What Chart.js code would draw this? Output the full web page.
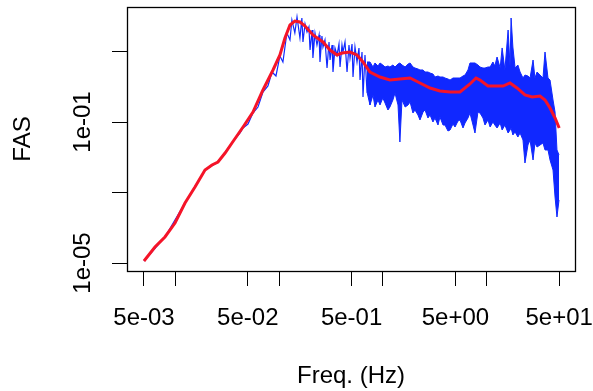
<!DOCTYPE html>
<html>
<head>
<meta charset="utf-8">
<script src="https://cdn.jsdelivr.net/npm/chart.js@4.4.0/dist/chart.umd.min.js"></script>
<style>
  html, body { margin: 0; padding: 0; background: #fff; }
  #fas { display: block; }
</style>
</head>
<body>
<canvas id="fas" width="593" height="391"></canvas>
<script>
// smoothed spectrum (red)
const redFreq = [0.005, 0.00638, 0.00796, 0.00995, 0.01242, 0.0155, 0.01935, 0.0226, 0.0258, 0.0302,
  0.0352, 0.045, 0.0561, 0.07, 0.0875, 0.102, 0.114, 0.1275, 0.142, 0.159,
  0.178, 0.212, 0.265, 0.31, 0.362, 0.404, 0.483, 0.564, 0.644, 0.752,
  0.939, 1.17, 1.46, 1.83, 2.28, 2.85, 3.55, 4.44, 5.54, 6.91,
  7.9, 8.63, 10.3, 14.4, 16.8, 19.6, 23.4, 27.4, 32.7, 36.5,
  40.8, 45.6, 50];
const redFas = [1.14e-5, 2.84e-5, 5.47e-5, 1.36e-4, 5.04e-4, 1.43e-3, 4.35e-3, 6.03e-3, 7.33e-3, 0.0132,
  0.0254, 0.0721, 0.192, 0.809, 2.99, 7.96, 24.2, 56.5, 73.3, 68.7,
  52.9, 29.4, 18.6, 11.0, 7.96, 9.07, 9.68, 7.96, 5.04, 2.62,
  1.89, 1.55, 1.66, 1.77, 1.28, 0.922, 0.757, 0.71, 0.71, 1.2,
  1.77, 1.55, 1.05, 1.05, 1.28, 0.922, 0.584, 0.512, 0.547, 0.421,
  0.25, 0.13, 0.0676];

// raw spectrum (blue), low frequencies: single jagged trace
const traceFreq = [0.005, 0.00796, 0.0124, 0.0194, 0.0258, 0.0352, 0.0421, 0.045, 0.0502, 0.0561,
  0.0627, 0.070, 0.0782, 0.0855, 0.0934, 0.102, 0.109, 0.119, 0.1275, 0.133,
  0.142, 0.149, 0.159, 0.166, 0.170, 0.178, 0.186, 0.194, 0.199, 0.208,
  0.212, 0.222, 0.232, 0.243, 0.248, 0.259, 0.265, 0.277, 0.290, 0.303,
  0.310, 0.324, 0.331, 0.346, 0.362, 0.378, 0.387, 0.404, 0.413, 0.432,
  0.452, 0.472, 0.483, 0.505, 0.516, 0.539, 0.564, 0.589, 0.603, 0.630,
  0.644, 0.673, 0.704, 0.719, 0.752];
const traceFas = [1.14e-5, 5.46e-5, 5.04e-4, 4.35e-3, 7.33e-3, 0.0254, 0.0487, 0.0676, 0.0877, 0.180,
  0.266, 0.710, 1.05, 2.62, 2.02, 7.46, 5.04, 33.5, 21.2, 78.3,
  33.5, 95.2, 24.2, 89.2, 18.6, 60.3, 35.7, 49.5, 11.0, 40.7,
  6.54, 33.5, 15.3, 29.4, 5.04, 27.5, 13.4, 21.2, 3.40, 18.6,
  5.74, 15.3, 2.62, 12.6, 7.96, 16.3, 3.63, 15.3, 9.68, 18.6,
  2.62, 15.3, 6.54, 16.3, 1.89, 13.4, 5.04, 12.6, 1.55, 9.68,
  0.512, 7.96, 0.710, 5.04, 0.304];

// raw spectrum (blue), high frequencies: upper / lower edge of the dense trace
const bandFreq = [0.704, 0.752, 0.804, 0.840, 0.898,
  0.939, 1.00, 1.05, 1.12, 1.17, 1.25, 1.31, 1.40, 1.46, 1.53,
  1.64, 1.75, 1.83, 1.95, 2.04, 2.18, 2.28, 2.44, 2.55, 2.72,
  2.85, 3.04, 3.18, 3.40, 3.55, 3.80, 3.97, 4.24, 4.44, 4.74,
  4.96, 5.30, 5.54, 5.92, 6.19, 6.61, 6.91, 7.39, 7.72, 8.25,
  8.63, 9.22, 9.64, 10.3, 10.8, 11.5, 12.0, 12.6, 13.5, 14.1,
  15.0, 16.1, 16.8, 17.2, 17.9, 18.8, 20.0, 21.0, 22.4, 23.4,
  25.0, 26.2, 28.0, 29.2, 30.6, 32.7, 34.9, 36.5, 39.0, 40.8,
  43.6, 45.6, 47.6, 49.8];
const bandHigh = [5.04, 5.04, 3.63, 4.72, 3.88,
  4.72, 4.14, 3.63, 3.88, 3.63, 4.14, 3.63, 4.42, 4.72, 4.14,
  3.63, 4.42, 4.72, 3.63, 3.40, 3.19, 2.99, 2.99, 2.62, 2.62,
  2.45, 2.30, 1.89, 2.02, 1.89, 1.89, 1.77, 1.66, 1.55, 1.77,
  1.77, 1.77, 1.77, 2.02, 2.15, 2.99, 4.72, 4.72, 4.72, 4.14,
  3.63, 3.40, 3.40, 3.63, 3.63, 5.04, 3.88, 6.98, 3.40, 12.6,
  2.99, 40.7, 3.88, 89.2, 13.4, 3.40, 4.14, 2.62, 1.77, 2.15,
  2.02, 1.77, 5.74, 1.77, 2.62, 2.15, 1.77, 9.68, 1.77, 1.55,
  0.421, 0.192, 0.0161, 0.0116];
const bandLow = [0.710, 0.304, 0.583, 0.266, 0.421,
  0.304, 0.480, 0.346, 0.219, 0.266, 0.421, 0.665, 0.304, 0.0271, 0.421,
  0.266, 0.304, 0.369, 0.180, 0.219, 0.158, 0.114, 0.192, 0.219, 0.130,
  0.158, 0.100, 0.130, 0.0822, 0.139, 0.0822, 0.0822, 0.0556, 0.0593, 0.0877,
  0.0721, 0.107, 0.114, 0.0676, 0.0937, 0.130, 0.180, 0.0822, 0.0487, 0.192,
  0.180, 0.130, 0.0822, 0.114, 0.0721, 0.100, 0.0822, 0.0676, 0.0937, 0.0593,
  0.0822, 0.0487, 0.0593, 0.0676, 0.0428, 0.0520, 0.0375, 0.0487, 0.0308, 0.00686,
  0.0223, 0.0308, 0.00836, 0.0254, 0.0195, 0.0223, 0.0254, 0.0161, 0.0161, 0.00836,
  0.00435, 7.45e-4, 2.02e-4, 6.13e-4];

const xTicks = [0.005, 0.01, 0.05, 0.1, 0.5, 1, 5, 10, 50];
const xTickLabels = ['5e-03', '', '5e-02', '', '5e-01', '', '5e+00', '', '5e+01'];
const yTicks = [1e-5, 1e-3, 1e-1, 10];
const yTickLabels = ['1e-05', '', '1e-01', ''];

const BLUE = 'rgb(16, 40, 255)';
const RED = 'rgb(245, 20, 40)';

function pairs(xs, ys) {
  return xs.map((x, i) => ({ x: x, y: ys[i] }));
}

const boxPlugin = {
  id: 'box',
  afterDatasetsDraw(chart) {
    const { ctx, chartArea: a } = chart;
    ctx.save();
    ctx.strokeStyle = '#000';
    ctx.lineWidth = 1.3;
    ctx.strokeRect(a.left + 0.5, a.top + 0.5, a.right - a.left, a.bottom - a.top);
    ctx.restore();
  }
};

Chart.defaults.font.family = '"Liberation Sans", Arial, sans-serif';
Chart.defaults.color = '#000';

new Chart(document.getElementById('fas'), {
  type: 'line',
  data: {
    datasets: [
      {
        label: 'smooth',
        data: pairs(redFreq, redFas),
        borderColor: RED,
        borderWidth: 3,
        pointRadius: 0,
        fill: false,
        order: 0
      },
      {
        label: 'fas-high',
        data: pairs(bandFreq, bandHigh),
        borderColor: BLUE,
        backgroundColor: BLUE,
        borderWidth: 1,
        pointRadius: 0,
        fill: '+1',
        order: 1
      },
      {
        label: 'fas-low',
        data: pairs(bandFreq, bandLow),
        borderColor: BLUE,
        borderWidth: 1,
        pointRadius: 0,
        fill: false,
        order: 2
      },
      {
        label: 'fas-trace',
        data: pairs(traceFreq, traceFas),
        borderColor: BLUE,
        borderWidth: 1.2,
        pointRadius: 0,
        fill: false,
        order: 3
      }
    ]
  },
  options: {
    responsive: false,
    animation: false,
    devicePixelRatio: 1,
    layout: { padding: { left: 0, top: 7, right: 18, bottom: 0 } },
    plugins: {
      legend: { display: false },
      tooltip: { enabled: false }
    },
    scales: {
      x: {
        type: 'logarithmic',
        position: 'bottom',
        min: 3.43e-3,
        max: 71,
        afterFit: (s) => { s.height = 120; s.paddingLeft = 0; s.paddingRight = 0; },
        afterBuildTicks: (s) => { s.ticks = xTicks.map(v => ({ value: v })); },
        grid: { drawOnChartArea: false, drawTicks: true, tickLength: 15, color: '#000', lineWidth: 1 },
        border: { display: true, color: '#000' },
        ticks: {
          autoSkip: false,
          maxRotation: 0,
          padding: 18,
          font: { size: 24 },
          callback: (v, i) => xTickLabels[i]
        },
        title: { display: true, text: 'Freq. (Hz)', font: { size: 24 }, padding: { top: 0, bottom: 0 } }
      },
      y: {
        type: 'logarithmic',
        position: 'left',
        min: 5.93e-6,
        max: 183,
        afterFit: (s) => { s.width = 127; s.paddingTop = 0; s.paddingBottom = 0; },
        afterBuildTicks: (s) => { s.ticks = yTicks.map(v => ({ value: v })); },
        grid: { drawOnChartArea: false, drawTicks: true, tickLength: 15, color: '#000', lineWidth: 1 },
        border: { display: true, color: '#000' },
        ticks: {
          autoSkip: false,
          minRotation: 90,
          maxRotation: 90,
          crossAlign: 'center',
          padding: -2,
          font: { size: 24 },
          callback: (v, i) => yTickLabels[i]
        },
        title: { display: true, text: 'FAS', font: { size: 24 }, padding: { top: 9, bottom: 0 } }
      }
    }
  },
  plugins: [boxPlugin]
});
</script>
</body>
</html>
